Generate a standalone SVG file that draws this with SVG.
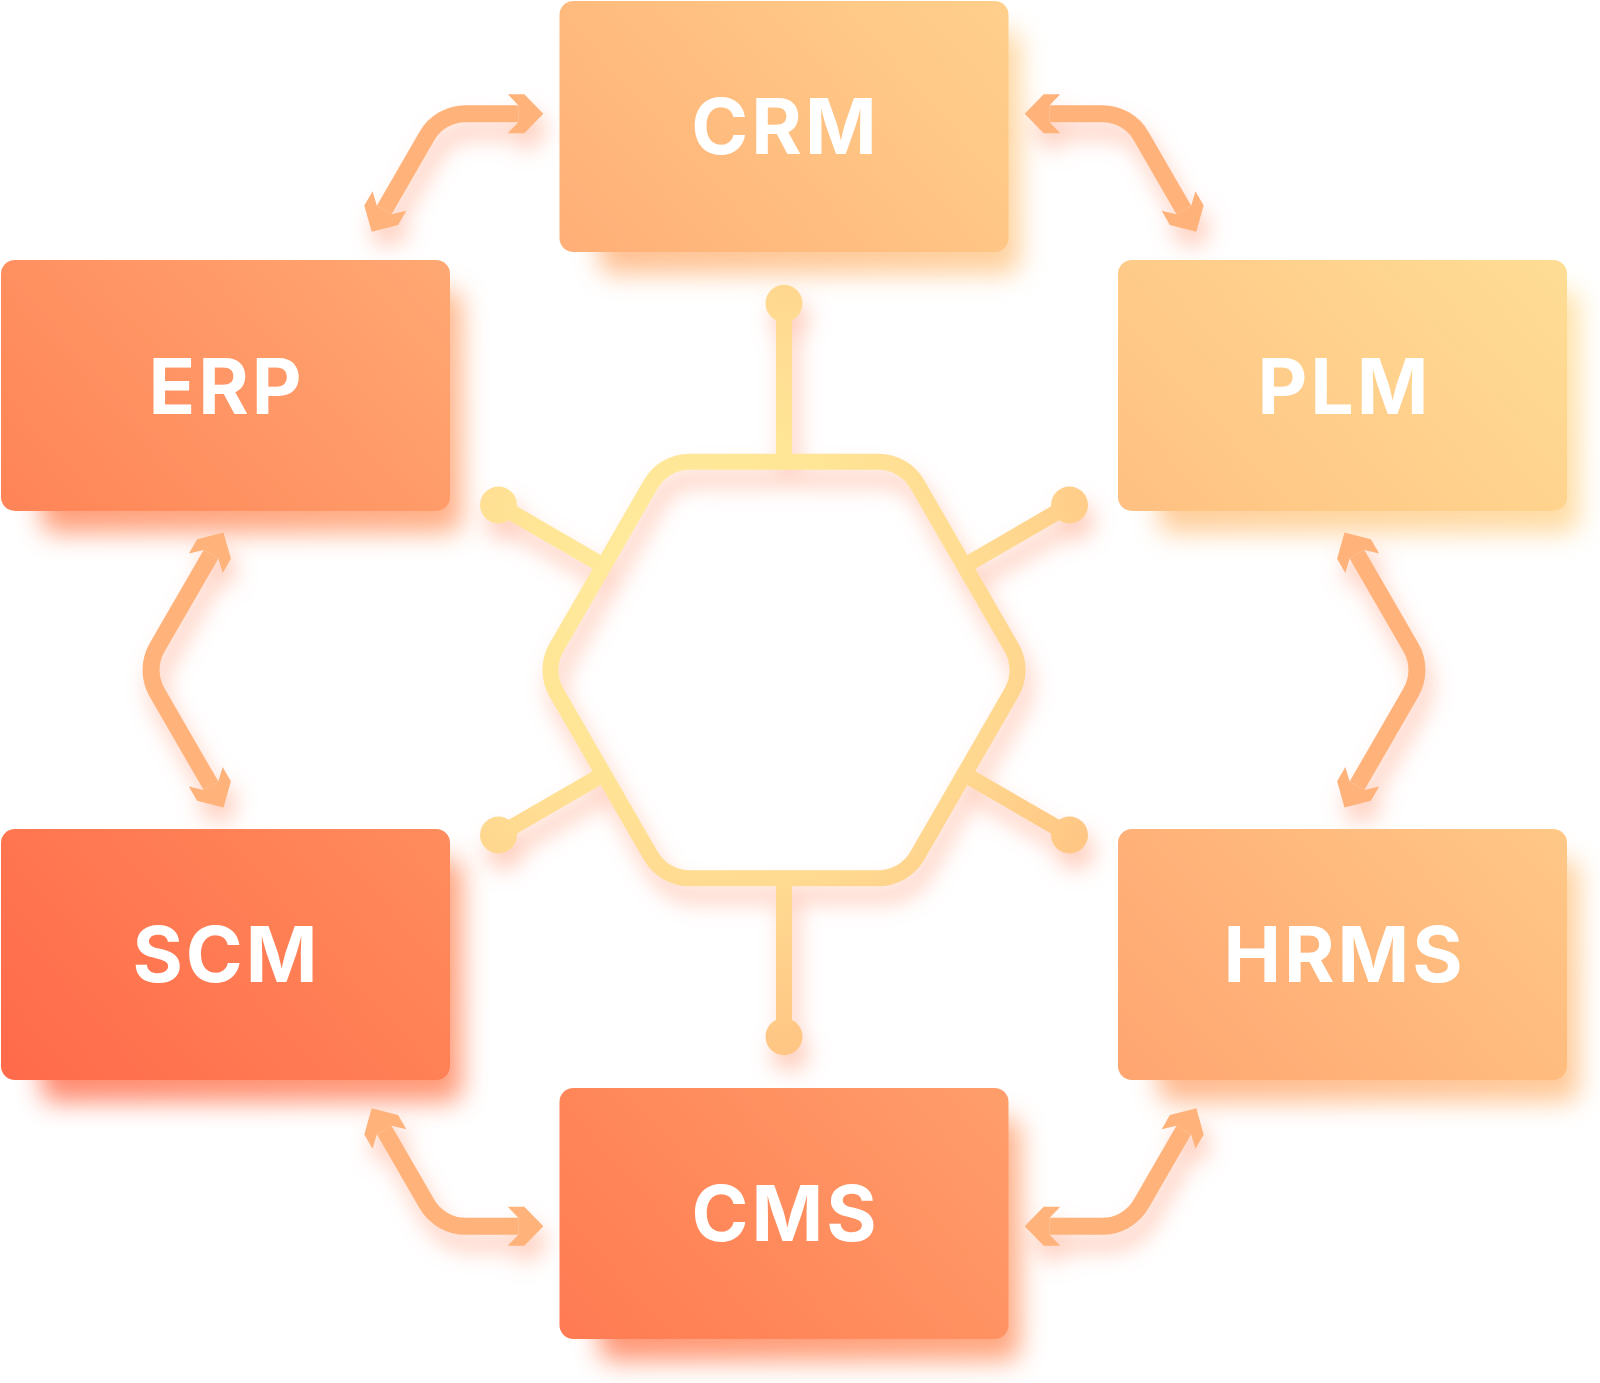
<svg xmlns="http://www.w3.org/2000/svg" width="1600" height="1383" viewBox="0 0 1600 1383">
  <defs>
    <linearGradient id="boxGrad" gradientUnits="userSpaceOnUse" x1="100" y1="1300" x2="1500" y2="50">
      <stop offset="0" stop-color="#FF6548"/>
      <stop offset="0.25" stop-color="#FF8558"/>
      <stop offset="0.5" stop-color="#FFA772"/>
      <stop offset="0.75" stop-color="#FFC886"/>
      <stop offset="1" stop-color="#FEE298"/>
    </linearGradient>
    <radialGradient id="hexGrad" gradientUnits="userSpaceOnUse" cx="700" cy="600" r="450">
      <stop offset="0" stop-color="#FFEEA0"/>
      <stop offset="0.4" stop-color="#FFE596"/>
      <stop offset="0.7" stop-color="#FFD890"/>
      <stop offset="1" stop-color="#FFC684"/>
    </radialGradient>
    <filter id="shadowBlur" x="-20%" y="-30%" width="140%" height="160%">
      <feGaussianBlur stdDeviation="13"/>
    </filter>
    <filter id="glow" x="-20%" y="-20%" width="140%" height="140%">
      <feGaussianBlur in="SourceAlpha" stdDeviation="11"/>
      <feOffset dx="6" dy="16" result="b"/>
      <feFlood flood-color="#FF9A78" flood-opacity="0.5"/>
      <feComposite in2="b" operator="in"/>
      <feMerge>
        <feMergeNode/>
        <feMergeNode in="SourceGraphic"/>
      </feMerge>
    </filter>
    <marker id="head" markerUnits="userSpaceOnUse" viewBox="-15 -25 45 50" markerWidth="45" markerHeight="50" refX="0" refY="0" orient="auto-start-reverse">
      <polygon points="25,0 6,-19.5 -10.5,-19.5 0,-8.5 0,8.5 -10.5,19.5 6,19.5" fill="#FFB27A"/>
    </marker>
    <style>
      .shadow { fill: url(#boxGrad); opacity: 0.8; filter: url(#shadowBlur); }
      .box { fill: url(#boxGrad); }
      .label { font-family: Inter, "Liberation Sans", sans-serif; font-weight: 700; font-size: 77px; letter-spacing: 3px; fill: #FFFFFF; text-anchor: middle; }
      .arrow { fill: none; stroke: #FFB27A; stroke-width: 17; marker-start: url(#head); marker-end: url(#head); }
      .hex { fill: none; stroke: url(#hexGrad); stroke-width: 16; }
      .spoke { stroke: url(#hexGrad); stroke-width: 16; }
      .dot { fill: url(#hexGrad); }
    </style>
  </defs>

  <g id="shadows">
    <rect class="shadow" x="599" y="31" width="421" height="243" rx="14"/>
    <rect class="shadow" x="41" y="290" width="421" height="243" rx="14"/>
    <rect class="shadow" x="1158" y="290" width="421" height="243" rx="14"/>
    <rect class="shadow" x="41" y="859" width="421" height="243" rx="14"/>
    <rect class="shadow" x="1158" y="859" width="421" height="243" rx="14"/>
    <rect class="shadow" x="599" y="1118" width="421" height="243" rx="14"/>
  </g>

  <g id="hub" filter="url(#glow)">
    <path class="hex" d="M 689.75 461.7 L 878.25 461.7 A 45 45 0 0 1 917.25 484.22 L 1011.5 647.48 A 45 45 0 0 1 1011.5 692.52 L 917.25 855.78 A 45 45 0 0 1 878.25 878.3 L 689.75 878.3 A 45 45 0 0 1 650.75 855.78 L 556.5 692.52 A 45 45 0 0 1 556.5 647.48 L 650.75 484.22 A 45 45 0 0 1 689.75 461.7 Z"/>
    <line class="spoke" x1="784" y1="461.7" x2="784" y2="303.3"/>
    <line class="spoke" x1="784" y1="878.3" x2="784" y2="1036.7"/>
    <line class="spoke" x1="603.6" y1="565.85" x2="498.5" y2="505"/>
    <line class="spoke" x1="964.4" y1="565.85" x2="1069.5" y2="505"/>
    <line class="spoke" x1="603.6" y1="774.15" x2="498.5" y2="835"/>
    <line class="spoke" x1="964.4" y1="774.15" x2="1069.5" y2="835"/>
    <circle class="dot" cx="784" cy="303.3" r="18.5"/>
    <circle class="dot" cx="784" cy="1036.7" r="18.5"/>
    <circle class="dot" cx="498.5" cy="505" r="18.5"/>
    <circle class="dot" cx="1069.5" cy="505" r="18.5"/>
    <circle class="dot" cx="498.5" cy="835" r="18.5"/>
    <circle class="dot" cx="1069.5" cy="835" r="18.5"/>
  </g>

  <g id="connectors" filter="url(#glow)">
    <path class="arrow" d="M 518.3 113.7 L 465.8 113.7 A 45 45 0 0 0 426.8 136.2 L 384.2 210.05"/>
    <path class="arrow" d="M 1049.7 113.7 L 1102.2 113.7 A 45 45 0 0 1 1141.2 136.2 L 1183.8 210.05"/>
    <path class="arrow" d="M 211 554.15 L 157.1 647.5 A 45 45 0 0 0 157.1 692.5 L 211 785.85"/>
    <path class="arrow" d="M 1357 554.15 L 1410.9 647.5 A 45 45 0 0 1 1410.9 692.5 L 1357 785.85"/>
    <path class="arrow" d="M 518.3 1226.3 L 465.8 1226.3 A 45 45 0 0 1 426.8 1203.8 L 384.2 1129.95"/>
    <path class="arrow" d="M 1049.7 1226.3 L 1102.2 1226.3 A 45 45 0 0 0 1141.2 1203.8 L 1183.8 1129.95"/>
  </g>

  <g id="node-crm">
    <rect class="box" x="559.5" y="1" width="449" height="251" rx="14"/>
    <text class="label" x="785.5" y="153.5">CRM</text>
  </g>
  <g id="node-erp">
    <rect class="box" x="1" y="260" width="449" height="251" rx="14"/>
    <text class="label" x="226.5" y="413.5">ERP</text>
  </g>
  <g id="node-plm">
    <rect class="box" x="1118" y="260" width="449" height="251" rx="14"/>
    <text class="label" x="1344.5" y="413.5">PLM</text>
  </g>
  <g id="node-scm">
    <rect class="box" x="1" y="829" width="449" height="251" rx="14"/>
    <text class="label" x="226.5" y="982">SCM</text>
  </g>
  <g id="node-hrms">
    <rect class="box" x="1118" y="829" width="449" height="251" rx="14"/>
    <text class="label" x="1344.5" y="982">HRMS</text>
  </g>
  <g id="node-cms">
    <rect class="box" x="559.5" y="1088" width="449" height="251" rx="14"/>
    <text class="label" x="785.5" y="1241">CMS</text>
  </g>
</svg>
